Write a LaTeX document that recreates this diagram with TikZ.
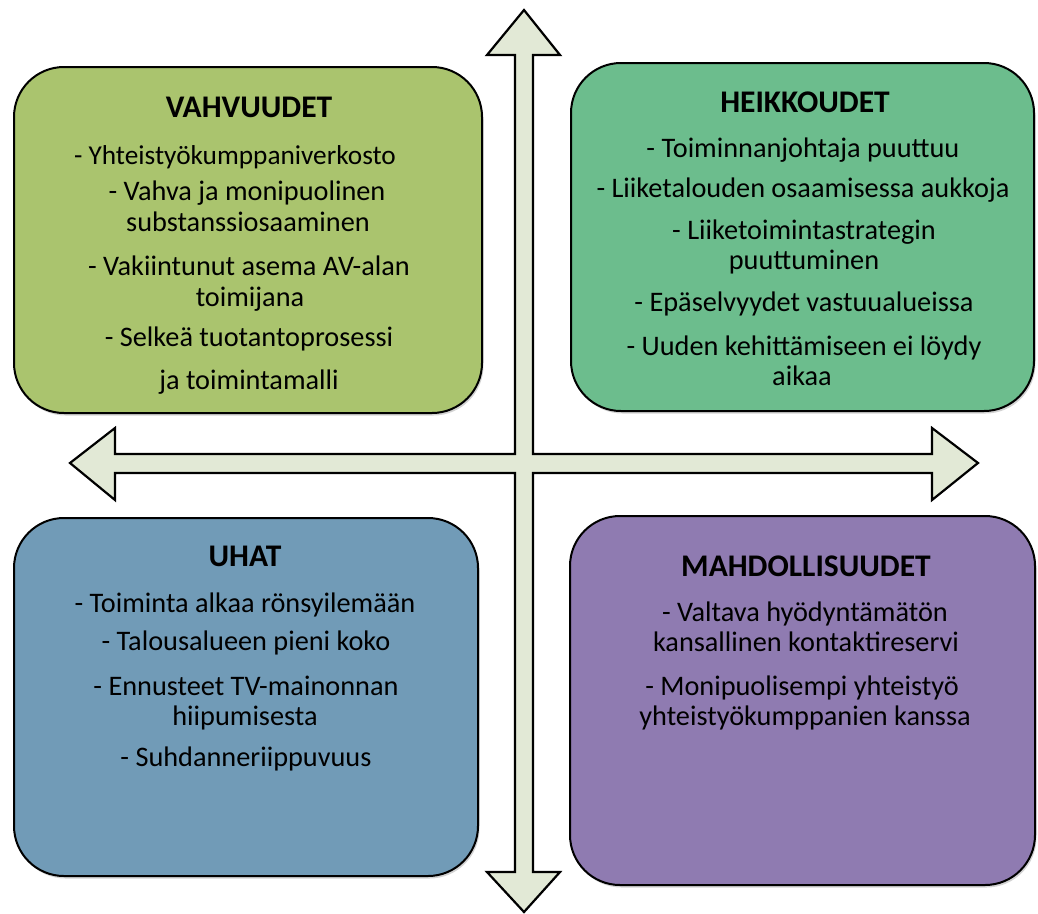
\documentclass[tikz,border=0pt]{standalone}
\usepackage{fontspec}
\setmainfont{Carlito}
\usetikzlibrary{shadows}
\definecolor{cgreen}{RGB}{170,196,110}
\definecolor{cteal}{RGB}{108,189,141}
\definecolor{cblue}{RGB}{113,155,183}
\definecolor{cpurple}{RGB}{143,123,177}
\definecolor{carrow}{RGB}{226,233,214}
\tikzset{
  quad/.style={draw=black, line width=2pt, rounded corners=50pt,
    drop shadow={shadow xshift=1.5pt, shadow yshift=-2.5pt, opacity=0.35}},
  crossarrow/.style={draw=black, fill=carrow, line width=2.2pt, line join=miter},
  ttl/.style={anchor=base, inner sep=0pt, font=\fontsize{31.5}{34}\selectfont\bfseries},
  txt/.style={anchor=base, inner sep=0pt, font=\fontsize{28.3}{32}\selectfont},
  txtsm/.style={anchor=base, inner sep=0pt, font=\fontsize{27.3}{31}\selectfont},
}
\begin{document}
\begin{tikzpicture}[x=1pt,y=-1pt]
\useasboundingbox (0,0) rectangle (1038,913);
% cross arrow
\draw[crossarrow] (515,55) -- (487,55) -- (524,10) -- (560,55) -- (533,55)
  -- (533,454) -- (932,454) -- (932,428) -- (978,463) -- (932,500) -- (932,473)
  -- (533,473) -- (533,872) -- (560,872) -- (524,912) -- (487,872) -- (515,872)
  -- (515,473) -- (115,473) -- (115,500) -- (70,463) -- (115,428) -- (115,454)
  -- (515,454) -- cycle;
% boxes
\path[quad, fill=cgreen]  (14,67)  rectangle (482,413);
\path[quad, fill=cteal]   (571,63) rectangle (1034,411);
\path[quad, fill=cblue]   (14,518) rectangle (478,876);
\path[quad, fill=cpurple] (570,516) rectangle (1035,885);
% VAHVUUDET
\node[ttl] (v0) at (249,117) {VAHVUUDET};
\node[txtsm] (v1) at (235,164) {- Yhteistyökumppaniverkosto};
\node[txt] (v2) at (247,200) {- Vahva ja monipuolinen};
\node[txt] (v3) at (248,231) {substanssiosaaminen};
\node[txt] (v4) at (249,275) {- Vakiintunut asema AV-alan};
\node[txt] (v5) at (250,306) {toimijana};
\node[txt] (v6) at (249,346) {- Selkeä tuotantoprosessi};
\node[txt] (v7) at (249,389) {ja toimintamalli};
% HEIKKOUDET
\node[ttl] (h0) at (805,112) {HEIKKOUDET};
\node[txt] (h1) at (803,157) {- Toiminnanjohtaja puuttuu};
\node[txt] (h2) at (803,197) {- Liiketalouden osaamisessa aukkoja};
\node[txt] (h3) at (804,239) {- Liiketoimintastrategin};
\node[txt] (h4) at (804,269) {puuttuminen};
\node[txt] (h5) at (804,311) {- Epäselvyydet vastuualueissa};
\node[txt] (h6) at (804,355) {- Uuden kehittämiseen ei löydy};
\node[txt] (h7) at (802,385) {aikaa};
% UHAT
\node[ttl] (u0) at (245,566) {UHAT};
\node[txt] (u1) at (245,612) {- Toiminta alkaa rönsyilemään};
\node[txt] (u2) at (246,650) {- Talousalueen pieni koko};
\node[txt] (u3) at (246,695) {- Ennusteet TV-mainonnan};
\node[txt] (u4) at (245,725) {hiipumisesta};
\node[txt] (u5) at (246,766) {- Suhdanneriippuvuus};
% MAHDOLLISUUDET
\node[ttl] (m0) at (806,576) {MAHDOLLISUUDET};
\node[txt] (m1) at (805,621) {- Valtava hyödyntämätön};
\node[txt] (m2) at (806,651) {kansallinen kontaktireservi};
\node[txt] (m3) at (802,695) {- Monipuolisempi yhteistyö};
\node[txt] (m4) at (805,725) {yhteistyökumppanien kanssa};
\end{tikzpicture}
\end{document}
